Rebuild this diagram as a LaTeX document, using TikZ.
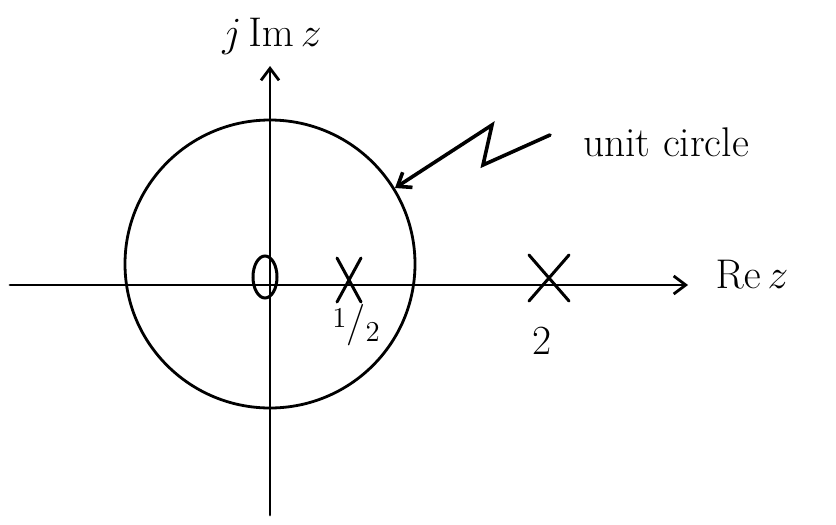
\documentclass[tikz,border=0pt]{standalone}
\usetikzlibrary{arrows.meta}
\begin{document}
\begin{tikzpicture}[x=0.5pt,y=-0.5pt,line width=1.4pt,line cap=round,>={Straight Barb[length=6pt,width=9pt]},
	pole/.style={line width=1.5pt},
	lbl/.style={font=\huge,inner sep=1pt}]
	\useasboundingbox (0,0) rectangle (836,525);
	% axes
	\coordinate (xl) at (10,285);
	\coordinate (xr) at (688,285);
	\coordinate (yb) at (270,515);
	\coordinate (yt) at (270,66);
	\draw[->] (xl)--(xr);
	\draw[->] (yb)--(yt);
	\node[lbl] (rez) at (752,274) {$\mathrm{Re}\,z$};
	\node[lbl] (imz) at (272,36) {$j\,\mathrm{Im}\,z$};
	% unit circle
	\draw (270,264) ellipse (145 and 144);
	\node[lbl] (uc) at (666,142) {unit circle};
	\coordinate (ucs) at (550,135);
	\coordinate (ucp) at (395,188);
	\draw[->,line width=1.8pt] (ucs)--(483,165)--(492,125)--(ucp);
	% zero at the origin
	\draw[pole] (265,277) ellipse (12 and 21);
	% poles
	\draw[pole] (337,258)--(361,302) (361,258)--(337,302);
	\draw[pole] (529,255)--(569,301) (569,255)--(529,301);
	\node[lbl] (half) at (356,325) {\raisebox{0.45ex}{\Large 1}/\raisebox{-0.35ex}{\Large 2}};
	\node[lbl] (two) at (542,341) {2};
\end{tikzpicture}
\end{document}
